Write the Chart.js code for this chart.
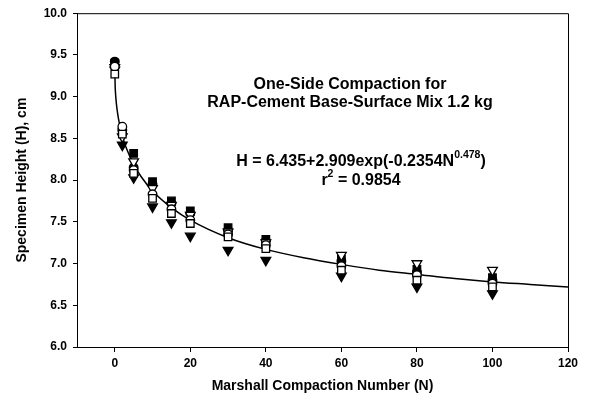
<!DOCTYPE html>
<html>
<head>
<meta charset="utf-8">
<script src="https://cdn.jsdelivr.net/npm/chart.js@4.4.1/dist/chart.umd.min.js"></script>
<style>
  html, body { margin: 0; padding: 0; background: #ffffff; }
  #wrap { width: 590px; height: 407px; position: relative; }
  canvas { display: block; }
</style>
</head>
<body>
<div id="wrap"><canvas id="c" width="590" height="407"></canvas></div>
<script>
// ---- data ----
const COMPACTION_N = [0, 2, 5, 10, 15, 20, 30, 40, 60, 80, 100];

const FILLED_CIRCLE   = [9.42, 8.60, 8.15, 7.95, 7.72, 7.60, 7.40, 7.27, 7.03, 6.90, 6.80];
const OPEN_CIRCLE     = [9.36, 8.64, 8.12, 7.83, 7.65, 7.52, 7.35, 7.22, 6.97, 6.86, 6.76];
const FILLED_TRIANGLE = [9.35, 8.42, 8.03, 7.68, 7.49, 7.33, 7.16, 7.04, 6.85, 6.72, 6.64];
const OPEN_TRIANGLE   = [9.32, 8.52, 8.22, 7.90, 7.70, 7.58, 7.38, 7.25, 7.10, 7.00, 6.92];
const FILLED_SQUARE   = [9.40, 8.58, 8.32, 7.98, 7.75, 7.63, 7.43, 7.29, 7.05, 6.93, 6.83];
const OPEN_SQUARE     = [9.27, 8.55, 8.08, 7.78, 7.60, 7.48, 7.32, 7.18, 6.92, 6.80, 6.72];

// fitted curve
const CURVE_N = [0, 0.1, 0.3, 0.6, 1, 1.5, 2, 3, 5, 7, 10, 15, 20, 30, 40, 50, 60, 70, 80, 90, 100, 110, 120];
const CURVE_H = [9.34, 9.13, 8.98, 8.85, 8.73, 8.62, 8.53, 8.39, 8.19, 8.04, 7.87, 7.67, 7.52, 7.31, 7.17, 7.07, 6.99, 6.92, 6.87, 6.82, 6.78, 6.75, 6.72];

const X_TICKS = [0, 20, 40, 60, 80, 100, 120];
const Y_TICKS = [6.0, 6.5, 7.0, 7.5, 8.0, 8.5, 9.0, 9.5, 10.0];

const TITLE_LINES = ['One-Side Compaction for', 'RAP-Cement Base-Surface Mix 1.2 kg'];
const EQ_MAIN = 'H = 6.435+2.909exp(-0.2354N';
const EQ_SUP = '0.478';
const EQ_END = ')';
const R2_TEXT = ' = 0.9854';

// ---- build ----
const pts = (ys) => COMPACTION_N.map((n, i) => ({ x: n, y: ys[i] }));
const FONT = '"Liberation Sans", Arial, sans-serif';

function markerSet(label, ys, style, filled, radius, rotation) {
  return {
    type: 'scatter',
    label,
    data: pts(ys),
    pointStyle: style,
    pointRotation: rotation || 0,
    pointRadius: radius,
    pointBackgroundColor: filled ? '#000000' : '#ffffff',
    pointBorderColor: '#000000',
    pointBorderWidth: 1.3,
    showLine: false
  };
}

const datasets = [
  markerSet('open square', OPEN_SQUARE, 'rect', false, 5.3),
  markerSet('open circle', OPEN_CIRCLE, 'circle', false, 4.3),
  markerSet('open triangle', OPEN_TRIANGLE, 'triangle', false, 5.6, 180),
  markerSet('filled triangle', FILLED_TRIANGLE, 'triangle', true, 5.6, 180),
  markerSet('filled circle', FILLED_CIRCLE, 'circle', true, 4.3),
  markerSet('filled square', FILLED_SQUARE, 'rect', true, 5.3),
  {
    type: 'line',
    label: 'fit',
    data: CURVE_N.map((n, i) => ({ x: n, y: CURVE_H[i] })),
    borderColor: '#000000',
    borderWidth: 1.5,
    pointRadius: 0,
    fill: false,
    cubicInterpolationMode: 'monotone'
  }
];

const framePlugin = {
  id: 'frame',
  afterDraw(chart) {
    const { ctx, chartArea: a } = chart;
    ctx.save();
    ctx.strokeStyle = '#000000';
    ctx.lineWidth = 1;
    ctx.beginPath();
    ctx.moveTo(a.left, a.top + 0.5);
    ctx.lineTo(a.right + 0.5, a.top + 0.5);
    ctx.lineTo(a.right + 0.5, a.bottom);
    ctx.stroke();
    ctx.restore();
  }
};

const textPlugin = {
  id: 'notes',
  afterDraw(chart) {
    const { ctx } = chart;
    ctx.save();
    ctx.fillStyle = '#000000';
    ctx.textBaseline = 'middle';
    ctx.textAlign = 'center';
    ctx.font = 'bold 16px ' + FONT;
    ctx.fillText(TITLE_LINES[0], 350, 85);
    ctx.fillText(TITLE_LINES[1], 350, 103);

    // equation with superscript
    const supFont = 'bold 10.5px ' + FONT;
    const mainFont = 'bold 16px ' + FONT;
    ctx.font = mainFont;
    const w1 = ctx.measureText(EQ_MAIN).width;
    const w3 = ctx.measureText(EQ_END).width;
    ctx.font = supFont;
    const w2 = ctx.measureText(EQ_SUP).width;
    const total = w1 + w2 + w3;
    let x = 361 - total / 2;
    const y = 162;
    ctx.textAlign = 'left';
    ctx.font = mainFont;
    ctx.fillText(EQ_MAIN, x, y);
    x += w1;
    ctx.font = supFont;
    ctx.fillText(EQ_SUP, x, y - 6.5);
    x += w2;
    ctx.font = mainFont;
    ctx.fillText(EQ_END, x, y);

    // r^2 line
    const wr = ctx.measureText('r').width;
    ctx.font = supFont;
    const w2s = ctx.measureText('2').width;
    ctx.font = mainFont;
    const wrest = ctx.measureText(R2_TEXT).width;
    let xr = 361 - (wr + w2s + wrest) / 2;
    const yr = 181;
    ctx.fillText('r', xr, yr);
    xr += wr;
    ctx.font = supFont;
    ctx.fillText('2', xr, yr - 6.5);
    xr += w2s;
    ctx.font = mainFont;
    ctx.fillText(R2_TEXT, xr, yr);
    ctx.restore();
  }
};

new Chart(document.getElementById('c'), {
  data: { datasets },
  options: {
    responsive: false,
    animation: false,
    events: [],
    layout: { padding: { top: 13, right: 22, left: 0, bottom: 0 } },
    plugins: { legend: { display: false }, tooltip: { enabled: false } },
    scales: {
      x: {
        type: 'linear',
        min: -10,
        max: 120,
        afterBuildTicks: (s) => { s.ticks = X_TICKS.map(v => ({ value: v })); },
        afterFit: (s) => { s.height = 60; },
        ticks: {
          color: '#000000',
          font: { family: FONT, size: 12, weight: 'bold' },
          padding: 4,
          maxRotation: 0,
          callback: (v) => String(v)
        },
        grid: { drawOnChartArea: false, drawTicks: true, tickLength: 5, color: '#000000' },
        border: { display: true, color: '#000000', width: 1 },
        title: {
          display: true,
          text: 'Marshall Compaction Number (N)',
          color: '#000000',
          font: { family: FONT, size: 14, weight: 'bold' },
          padding: { top: 0, bottom: 12 }
        }
      },
      y: {
        type: 'linear',
        min: 6,
        max: 10,
        afterBuildTicks: (s) => { s.ticks = Y_TICKS.map(v => ({ value: v })); },
        afterFit: (s) => { s.width = 77; },
        ticks: {
          color: '#000000',
          font: { family: FONT, size: 12, weight: 'bold' },
          padding: 6,
          callback: (v) => Number(v).toFixed(1)
        },
        grid: { drawOnChartArea: false, drawTicks: true, tickLength: 4, color: '#000000' },
        border: { display: true, color: '#000000', width: 1 },
        title: {
          display: true,
          text: 'Specimen Height (H), cm',
          color: '#000000',
          font: { family: FONT, size: 14, weight: 'bold' },
          padding: { top: 14, bottom: 0 }
        }
      }
    }
  },
  plugins: [framePlugin, textPlugin]
});
</script>
</body>
</html>
